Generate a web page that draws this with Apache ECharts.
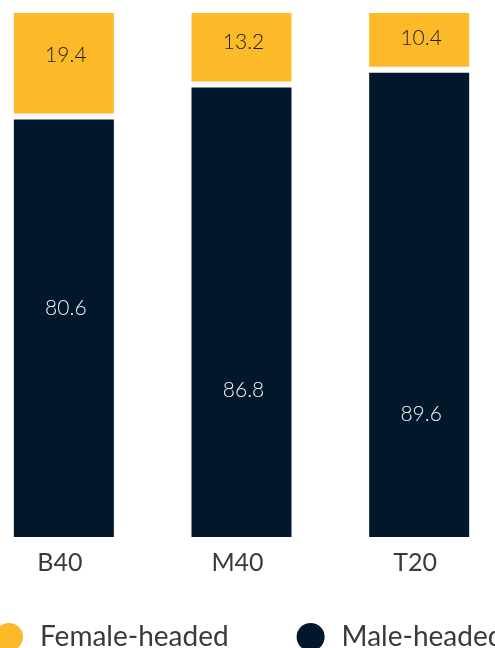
<!DOCTYPE html>
<html>
<head>
<meta charset="utf-8">
<script src="https://cdn.jsdelivr.net/npm/echarts@6/dist/echarts.min.js"></script>
<style>
  html, body { margin: 0; padding: 0; background: #ffffff; overflow: hidden; }
  body { width: 495px; height: 648px; position: relative; }
  /* the plot is a little wider than the page so the outer bars sit close to the edges */
  #chart { position: absolute; left: -25px; top: 0; width: 533px; height: 648px; }
</style>
</head>
<body>
<div id="chart"></div>
<script>
// Household head by income group (percent)
const groups = ['B40', 'M40', 'T20'];
const femaleHeaded = [19.4, 13.2, 10.4];
const maleHeaded = [80.6, 86.8, 89.6];

const YELLOW = '#FCBA29';
const NAVY = '#01172B';
const FONT = 'Lato, "Open Sans", sans-serif';
const BAR_W = 100;   // bar width in px
const GAP = 6;       // white gap between the two segments, px
// nudges for the in-bar value labels (px)
const maleLabelShift = [-20, 78, 109];
const femaleLabelShift = [-8, -5, -2];

const chart = echarts.init(document.getElementById('chart'), null, { renderer: 'canvas' });

function renderMale(params, api) {
  const i = api.value(0);
  const v = api.value(1);
  const base = api.coord([i, 0]);
  const top = api.coord([i, v]);
  const x = base[0] - BAR_W / 2;
  const cy = (base[1] + top[1]) / 2 + maleLabelShift[i];
  return {
    type: 'group',
    children: [
      { type: 'rect', shape: { x: x, y: top[1], width: BAR_W, height: base[1] - top[1] },
        style: { fill: NAVY } },
      { type: 'text', x: base[0] + 2, y: cy,
        style: { text: String(v), fill: '#F2F2F2', font: '300 21px ' + FONT,
                 align: 'center', verticalAlign: 'middle' } }
    ]
  };
}

function renderFemale(params, api) {
  const i = api.value(0);
  const v = api.value(1);
  const below = maleHeaded[i];
  const bottom = api.coord([i, below]);
  const top = api.coord([i, below + v]);
  const x = bottom[0] - BAR_W / 2;
  const y0 = bottom[1] - GAP;
  const y1 = top[1] - GAP;
  const cy = (y0 + y1) / 2 + femaleLabelShift[i];
  return {
    type: 'group',
    children: [
      { type: 'rect', shape: { x: x, y: y1, width: BAR_W, height: y0 - y1 },
        style: { fill: YELLOW } },
      { type: 'text', x: bottom[0] + 2, y: cy,
        style: { text: String(v), fill: '#1A1A1A', font: '300 21px ' + FONT,
                 align: 'center', verticalAlign: 'middle' } }
    ]
  };
}

chart.setOption({
  animation: false,
  backgroundColor: '#ffffff',
  grid: { left: 0, right: 0, top: 19, bottom: 111, containLabel: false },
  xAxis: {
    type: 'category',
    data: groups,
    axisLine: { show: false },
    axisTick: { show: false },
    axisLabel: { color: '#3A3A3A', fontFamily: FONT, fontWeight: 400, fontSize: 25,
                 margin: 13, padding: [0, 8, 0, 0] }
  },
  yAxis: { type: 'value', min: 0, max: 100, show: false },
  legend: {
    left: 20,
    top: 623,
    padding: 0,
    icon: 'circle',
    itemWidth: 28,
    itemHeight: 28,
    itemGap: 68,
    textStyle: { color: '#3A3A3A', fontFamily: FONT, fontWeight: 400, fontSize: 28,
                 padding: [0, 0, 0, 12] },
    data: [
      { name: 'Female-headed', itemStyle: { color: YELLOW } },
      { name: 'Male-headed', itemStyle: { color: NAVY } }
    ]
  },
  series: [
    { name: 'Male-headed', type: 'custom', renderItem: renderMale,
      itemStyle: { color: NAVY },
      data: groups.map((g, i) => [i, maleHeaded[i]]) },
    { name: 'Female-headed', type: 'custom', renderItem: renderFemale,
      itemStyle: { color: YELLOW },
      data: groups.map((g, i) => [i, femaleHeaded[i]]) }
  ]
});
</script>
</body>
</html>
